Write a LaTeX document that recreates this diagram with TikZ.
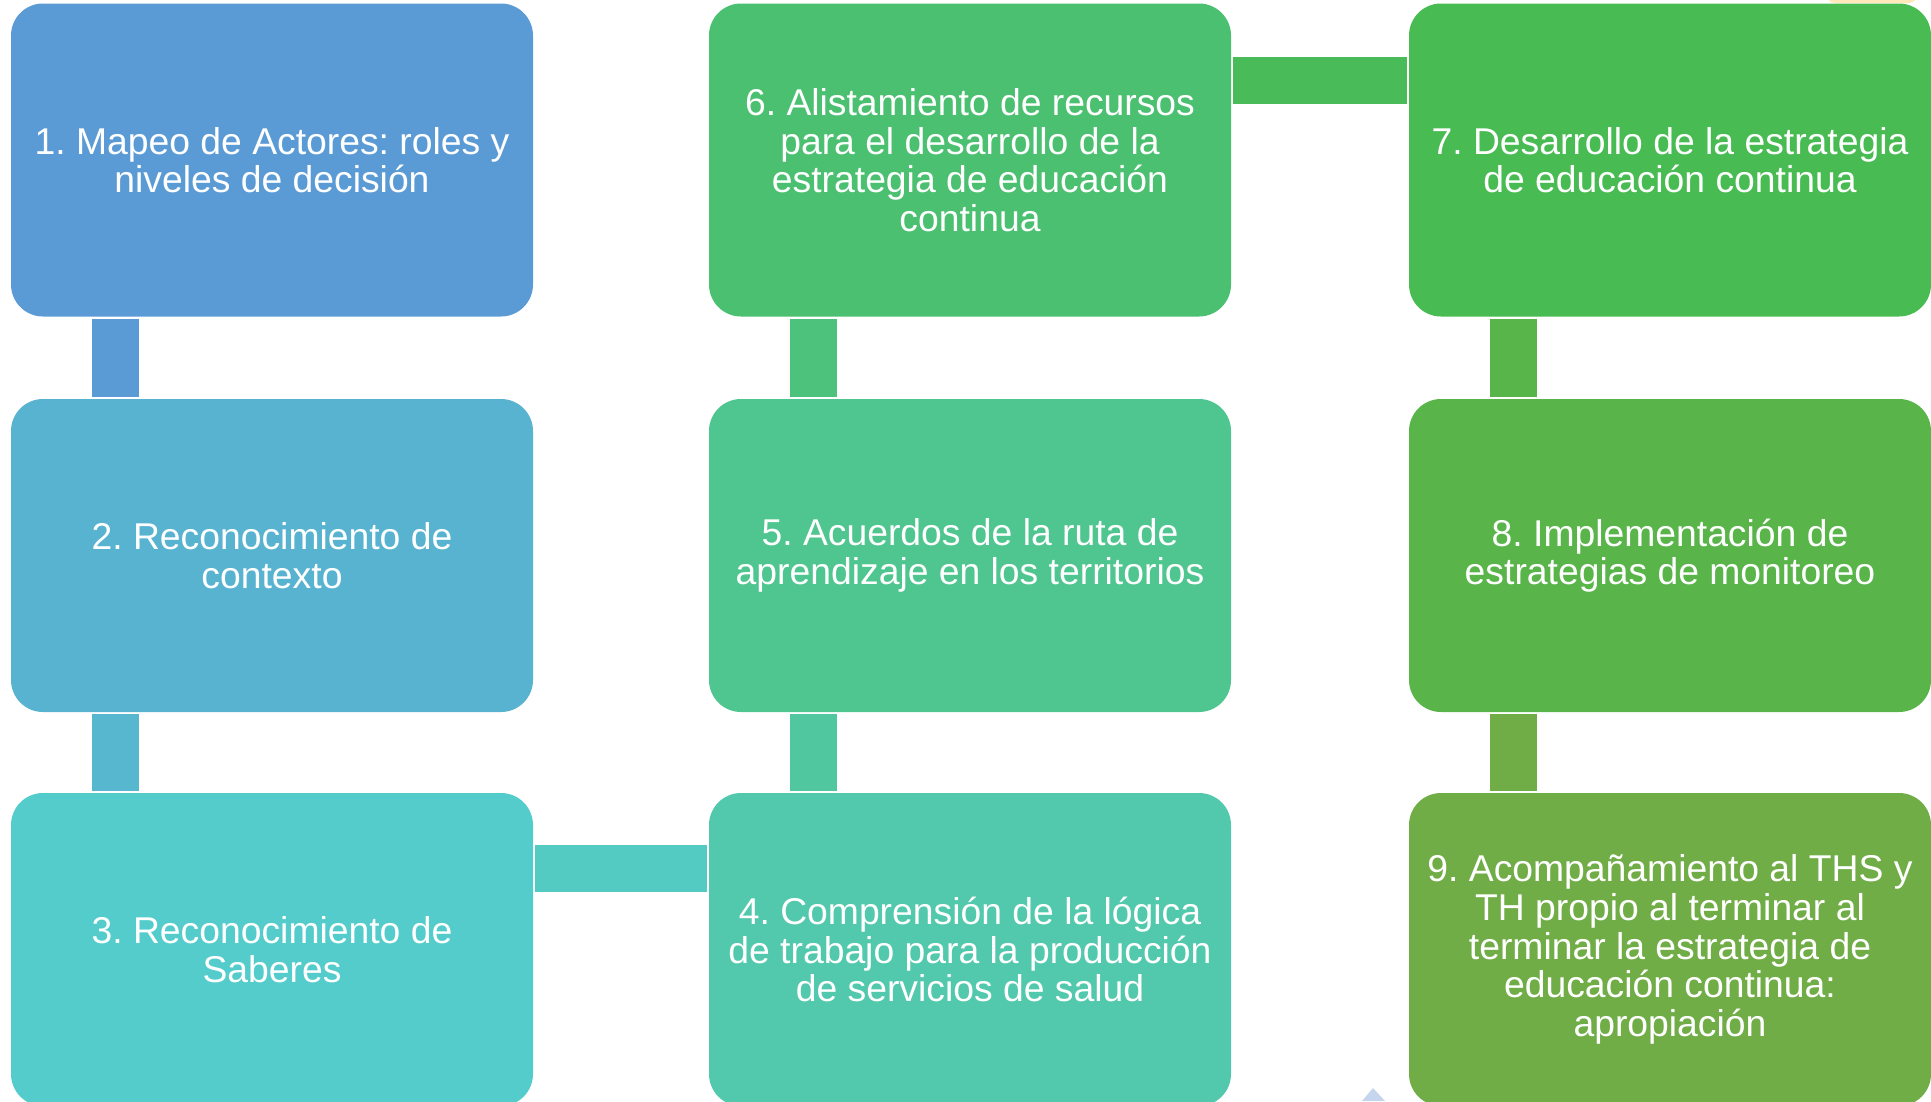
\documentclass[tikz,border=0pt]{standalone}
\usepackage{xcolor}
\usepackage{tikz}
\usepackage{fontspec}
\setmainfont{Liberation Sans}
\frenchspacing

\definecolor{paso1}{RGB}{91,155,213}
\definecolor{paso2}{RGB}{88,179,208}
\definecolor{paso3}{RGB}{84,204,204}
\definecolor{paso4}{RGB}{82,200,173}
\definecolor{paso5}{RGB}{79,197,143}
\definecolor{paso6}{RGB}{75,192,112}
\definecolor{paso7}{RGB}{72,187,82}
\definecolor{paso8}{RGB}{89,180,74}
\definecolor{paso9}{RGB}{112,173,71}
\definecolor{barra1}{RGB}{91,155,213}
\definecolor{barra2}{RGB}{87,183,207}
\definecolor{barra3}{RGB}{83,203,195}
\definecolor{barra4}{RGB}{81,199,160}
\definecolor{barra5}{RGB}{77,194,125}
\definecolor{barra6}{RGB}{73,188,89}
\definecolor{barra7}{RGB}{87,181,73}
\definecolor{barra8}{RGB}{112,173,71}
\definecolor{melocoton}{RGB}{255,233,184}
\definecolor{lavanda}{RGB}{197,213,238}

\begin{document}
\begin{tikzpicture}[x=1pt,
				y=-1pt,
				stepbox/.style={rounded corners=32pt, minimum width=522pt, minimum height=313pt,
					inner sep=0pt, text=white, align=center, font=\fontsize{37.3}{38.6}\selectfont},
				bar/.style={line width=47pt, shorten >=2pt, shorten <=2pt}]
				\useasboundingbox (0,0) rectangle (1931,1101);
				% restos de otras formas en los bordes
				\fill[melocoton, rounded corners=8pt] (1827,-30) rectangle (1917,3);
				\fill[lavanda] (1362,1101) -- (1373,1088) -- (1385,1101) -- cycle;
				\node at (272,160) (b1) [stepbox, fill=paso1] {1. Mapeo de Actores: roles y\\niveles de decisión};
				\node at (272,555.5) (b2) [stepbox, fill=paso2] {2. Reconocimiento de\\contexto};
				\node at (272,949.5) (b3) [stepbox, fill=paso3] {3. Reconocimiento de\\Saberes};
				\node at (970,949.5) (b4) [stepbox, fill=paso4] {4. Comprensión de la lógica\\de trabajo para la producción\\de servicios de salud};
				\node at (970,555.5) (b5) [stepbox, fill=paso5] {5. Acuerdos de la ruta de\\aprendizaje en los territorios};
				\node at (970,160) (b6) [stepbox, fill=paso6] {6. Alistamiento de recursos\\para el desarrollo de la\\estrategia de educación\\continua};
				\node at (1670,160) (b7) [stepbox, fill=paso7] {7. Desarrollo de la estrategia\\de educación continua};
				\node at (1670,555.5) (b8) [stepbox, fill=paso8] {8. Implementación de\\estrategias de monitoreo};
				\node at (1670,949.5) (b9) [stepbox, fill=paso9] {9. Acompañamiento al THS y\\TH propio al terminar al\\terminar la estrategia de\\educación continua:\\apropiación};
				\draw[bar, barra1] ([xshift=-157pt]b1.south) -- ([xshift=-157pt]b2.north);
				\draw[bar, barra2] ([xshift=-157pt]b2.south) -- ([xshift=-157pt]b3.north);
				\draw[bar, barra3] ([yshift=81pt]b3.east) -- ([yshift=81pt]b4.west);
				\draw[bar, barra4] ([xshift=-157pt]b4.north) -- ([xshift=-157pt]b5.south);
				\draw[bar, barra5] ([xshift=-157pt]b5.north) -- ([xshift=-157pt]b6.south);
				\draw[bar, barra6] ([yshift=79.5pt]b6.east) -- ([yshift=79.5pt]b7.west);
				\draw[bar, barra7] ([xshift=-157pt]b7.south) -- ([xshift=-157pt]b8.north);
				\draw[bar, barra8] ([xshift=-157pt]b8.south) -- ([xshift=-157pt]b9.north);
			\end{tikzpicture}
\end{document}
